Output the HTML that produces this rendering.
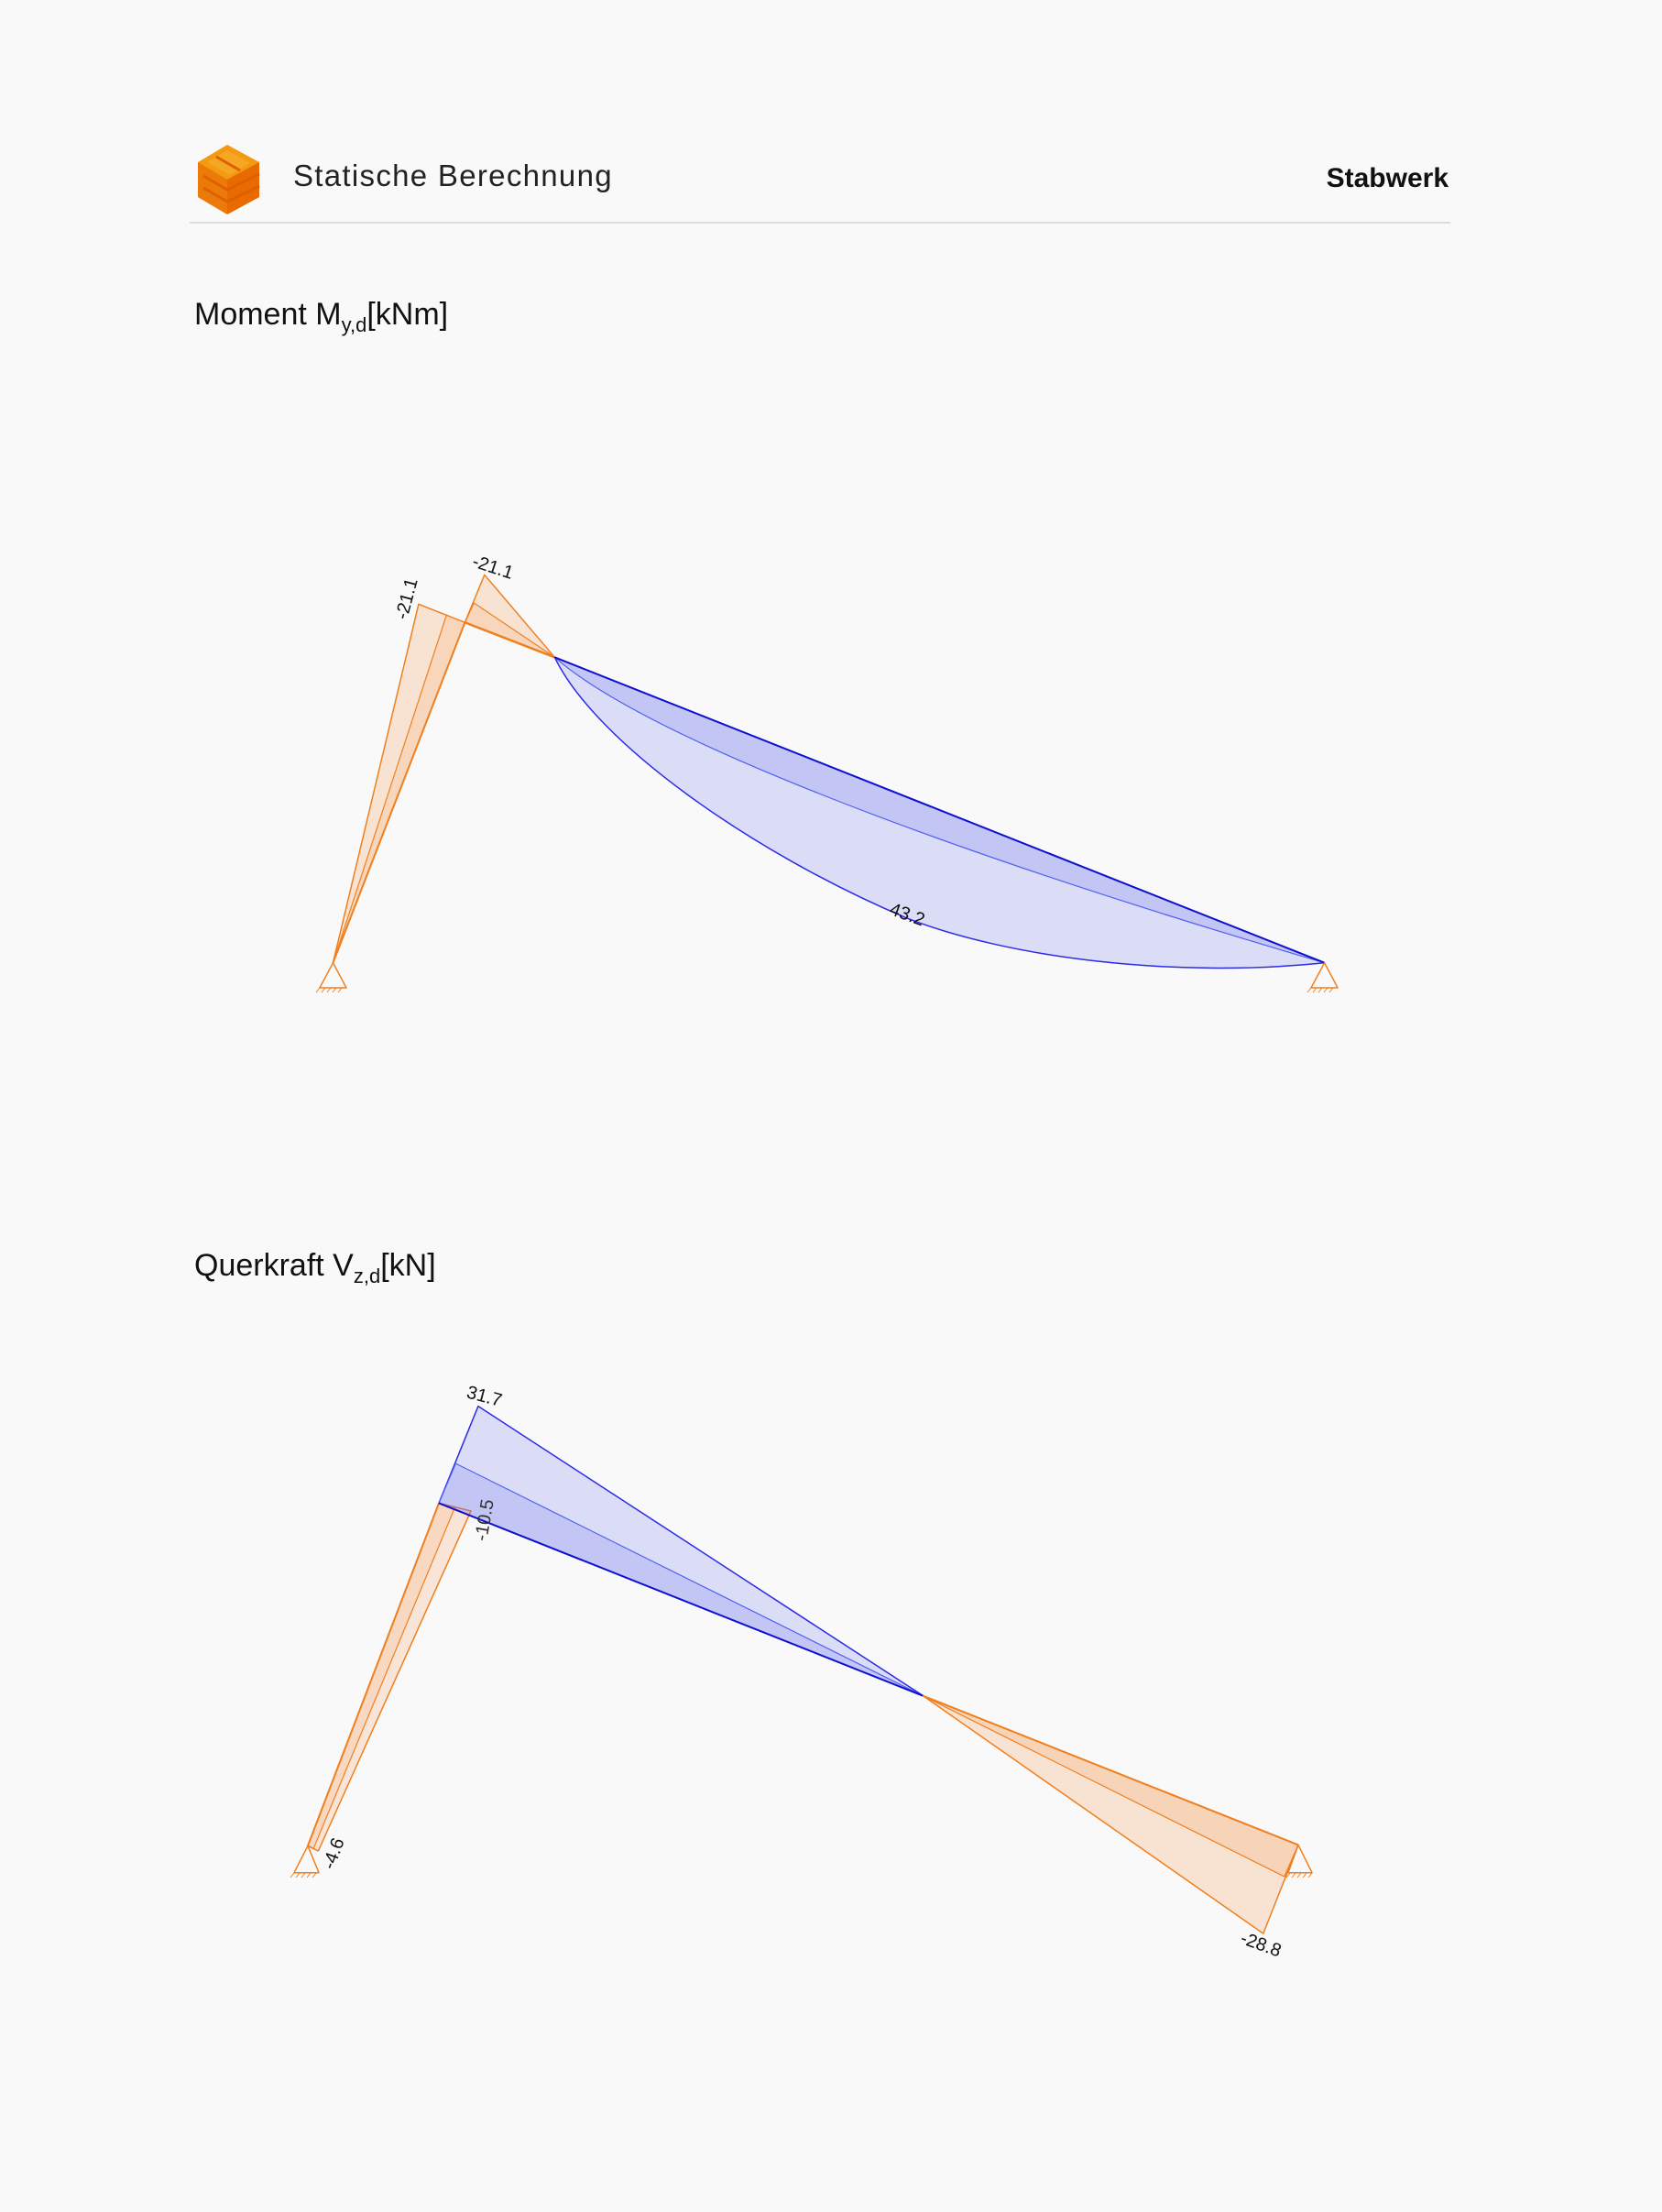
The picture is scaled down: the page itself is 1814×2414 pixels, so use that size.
<!DOCTYPE html>
<html><head><meta charset="utf-8"><style>
html,body{margin:0;padding:0;background:#f9f9f9;}
body{width:1814px;height:2414px;position:relative;overflow:hidden;font-family:"Liberation Sans",sans-serif;}
.t{position:absolute;white-space:nowrap;color:#111;}
</style></head><body>
<svg width="1814" height="2414" style="position:absolute;left:0;top:0" xmlns="http://www.w3.org/2000/svg">
<g>
<polygon points="216,177 248,158 283,177 283,215 248,234 216,215" fill="#f39a10"/>
<polygon points="216,177 248,196 248,234 216,215" fill="#ec7a08"/>
<polygon points="248,196 283,177 283,215 248,234" fill="#e86a00"/>
<polygon points="226,177 248,164 273,178 251,191" fill="#f5a623"/>
<polyline points="222,192 248,207 283,190" stroke="#e06000" stroke-width="3" fill="none"/>
<polyline points="222,205 248,220 283,203" stroke="#e06000" stroke-width="3" fill="none"/>
<polyline points="236,171 262,186" stroke="#e06000" stroke-width="3" fill="none"/>
</g>
<line x1="207" y1="243" x2="1583" y2="243" stroke="#dcdcdc" stroke-width="2"/>

<g stroke-width="1.5" stroke-linejoin="round">
<polygon points="363.5,1050.7 507.4,679.3 456.9,659.3" fill="rgba(245,140,60,0.2)" stroke="#f07f1e"/>
<line x1="363.5" y1="1050.7" x2="487.5" y2="670.7" stroke="#f07f1e" stroke-width="1.2"/>
<polygon points="363.5,1050.7 507.4,679.3 487.5,670.7" fill="rgba(245,140,60,0.15)" stroke="none"/>
<polygon points="507.4,679.3 528.8,627.3 605.4,717.3" fill="rgba(245,140,60,0.2)" stroke="#f07f1e"/>
<polygon points="507.4,679.3 517.3,658 605.4,717.3" fill="rgba(245,140,60,0.15)" stroke="#f07f1e" stroke-width="1.2"/>
<line x1="363.5" y1="1050.7" x2="507.4" y2="679.3" stroke="#f07f1e" stroke-width="2"/>
<line x1="507.4" y1="679.3" x2="605.4" y2="717.3" stroke="#f07f1e" stroke-width="2.5"/>
<path d="M605.4,717.3 C650,810 820,930 989,1001.7 C1100,1045 1280,1068 1445.6,1050.7 Z" fill="rgba(100,110,240,0.2)" stroke="#2a2ae8"/>
<path d="M605.4,717.3 C700,800 1000,920 1445.6,1050.7 Z" fill="rgba(100,110,240,0.2)" stroke="#5060f0" stroke-width="1.2"/>
<line x1="605.4" y1="717.3" x2="1445.6" y2="1050.7" stroke="#1010d0" stroke-width="2"/>
<polygon points="363.5,1050.7 349,1078 378,1078" fill="none" stroke="#f07f1e"/>
<polygon points="1445.6,1050.7 1431,1078 1460,1078" fill="none" stroke="#f07f1e"/>
<path d="M349,1078 l-4,5 M355,1078 l-4,5 M361,1078 l-4,5 M367,1078 l-4,5 M373,1078 l-4,5 M1431,1078 l-4,5 M1437,1078 l-4,5 M1443,1078 l-4,5 M1449,1078 l-4,5 M1455,1078 l-4,5" stroke="#f07f1e" stroke-width="1"/>
</g>
<g font-family="Liberation Sans, sans-serif" font-size="20" fill="#111">
<text transform="translate(536,625) rotate(18)" text-anchor="middle">-21.1</text>
<text transform="translate(450,655) rotate(-75)" text-anchor="middle">-21.1</text>
<text transform="translate(988,1004) rotate(20)" text-anchor="middle">43.2</text>
</g>

<g stroke-width="1.5" stroke-linejoin="round">
<polygon points="336,2014.3 479,1640.4 514,1649 347.4,2020" fill="rgba(245,140,60,0.18)" stroke="#f07f1e"/>
<polygon points="336,2014.3 479,1640.4 496.6,1644.8 342,2017.7" fill="rgba(245,140,60,0.15)" stroke="#f07f1e" stroke-width="1.2"/>
<line x1="336" y1="2014.3" x2="479" y2="1640.4" stroke="#f07f1e" stroke-width="2"/>
<polygon points="479,1640.4 521.9,1534.6 1007.7,1850.8" fill="rgba(100,110,240,0.2)" stroke="#2a2ae8"/>
<polygon points="479,1640.4 497.4,1597.1 1007.7,1850.8" fill="rgba(100,110,240,0.2)" stroke="#5060f0" stroke-width="1.2"/>
<line x1="479" y1="1640.4" x2="1007.7" y2="1850.8" stroke="#1010d0" stroke-width="2"/>
<polygon points="1007.7,1850.8 1417,2013.4 1378.8,2110.1" fill="rgba(245,140,60,0.2)" stroke="#f07f1e"/>
<polygon points="1007.7,1850.8 1417,2013.4 1401.8,2048" fill="rgba(245,140,60,0.18)" stroke="#f07f1e" stroke-width="1.2"/>
<line x1="1007.7" y1="1850.8" x2="1417" y2="2013.4" stroke="#f07f1e" stroke-width="2"/>
<polygon points="336,2014.3 321,2043.7 348,2043.7" fill="none" stroke="#f07f1e"/>
<polygon points="1417,2013.4 1406,2043.7 1432,2043.7" fill="none" stroke="#f07f1e"/>
<path d="M321,2044 l-4,5 M327,2044 l-4,5 M333,2044 l-4,5 M339,2044 l-4,5 M345,2044 l-4,5 M1408,2044 l-4,5 M1414,2044 l-4,5 M1420,2044 l-4,5 M1426,2044 l-4,5 M1432,2044 l-4,5" stroke="#f07f1e" stroke-width="1"/>
</g>
<g font-family="Liberation Sans, sans-serif" font-size="20" fill="#111">
<text transform="translate(527,1530) rotate(15)" text-anchor="middle">31.7</text>
<text transform="translate(535,1660) rotate(-80)" text-anchor="middle" fill="#333">-10.5</text>
<text transform="translate(370,2025) rotate(-70)" text-anchor="middle">-4.6</text>
<text transform="translate(1374,2128) rotate(20)" text-anchor="middle">-28.8</text>
</g>
</svg>
<div class="t" style="left:320px;top:173px;font-size:33px;font-weight:300;color:#222;letter-spacing:1.3px">Statische Berechnung</div>
<div class="t" style="right:233px;top:178px;font-size:30px;font-weight:bold;">Stabwerk</div>
<div class="t" style="left:212px;top:324px;font-size:34px;">Moment M<sub style="font-size:22px">y,d</sub>[kNm]</div>
<div class="t" style="left:212px;top:1362px;font-size:34px;">Querkraft V<sub style="font-size:22px">z,d</sub>[kN]</div>
</body></html>
